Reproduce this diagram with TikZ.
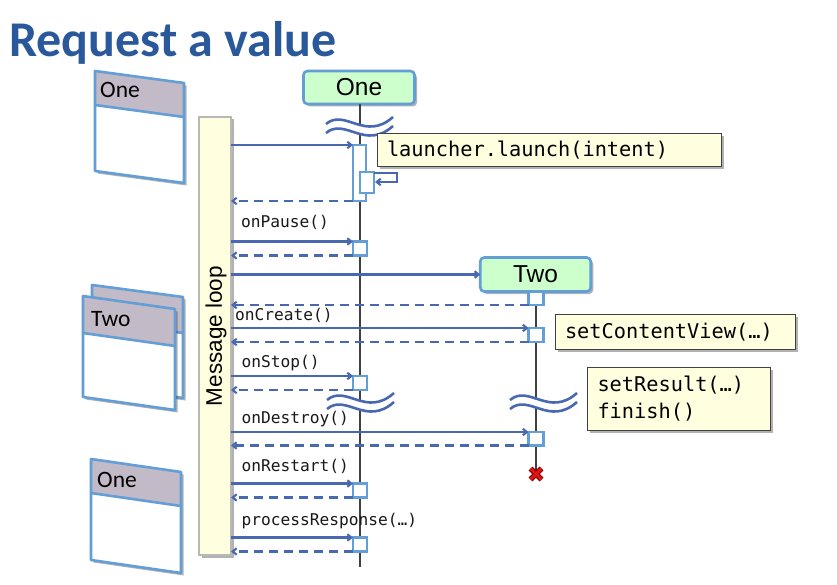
\documentclass[tikz,border=0pt]{standalone}
\usepackage{fontspec}
\setmainfont{Liberation Sans}
\newfontfamily\calibrifont{Carlito}
\newfontfamily\codefont{DejaVu Sans Mono}
\usetikzlibrary{arrows.meta,shadows,calc}
\definecolor{titleblue}{RGB}{41,88,155}
\definecolor{arrblue}{RGB}{72,104,178}
\definecolor{boxblue}{RGB}{100,158,214}
\definecolor{hdrgreen}{RGB}{204,255,204}
\definecolor{noteyellow}{RGB}{255,255,224}
\definecolor{winhdr}{RGB}{194,186,198}
\definecolor{xred}{RGB}{220,20,20}
\definecolor{xdark}{RGB}{140,0,0}
\tikzset{
  shadowed/.style={drop shadow={shadow xshift=2.5pt,shadow yshift=-2.5pt,opacity=0.3,fill=black}},
  actbox/.style={draw=boxblue,line width=2.2pt,fill=white,inner sep=0pt,outer sep=0pt,anchor=north west},
  hdr/.style={draw=boxblue,line width=2.6pt,fill=hdrgreen,rounded corners=4pt,inner sep=0pt,outer sep=0pt,
    font=\fontsize{24.5}{24.5}\selectfont,shadowed},
  note/.style={draw=black!75,fill=noteyellow,line width=1pt,anchor=north west,outer sep=0pt,inner ysep=0pt,
    align=left,font=\codefont\fontsize{20.3}{27}\selectfont,shadowed},
  msg/.style={arrblue,line width=2.1pt,-{Straight Barb[length=4pt,width=6.5pt]}},
  ret/.style={msg,dash pattern=on 9pt off 6pt},
  lbl/.style={font=\codefont\fontsize{16.2}{16}\selectfont,anchor=base west,inner sep=0pt,text=black!90},
  life/.style={draw=black!75,line width=1.4pt},
  winlbl/.style={font=\calibrifont\fontsize{23.5}{23.5}\selectfont,anchor=base west,inner sep=0pt},
  brkline/.style={arrblue,line width=2.6pt},
}
\newcommand\winicon[6]{% x y w skew headerh h
  \path[shadowed,fill=white] (#1,#2) -- ++(#3,#4) -- ++(0,#6) -- ++(-#3,-#4) -- cycle;
  \fill[winhdr] (#1,#2) -- ++(#3,#4) -- ++(0,#5) -- ++(-#3,-#4) -- cycle;
  \draw[boxblue,line width=2.6pt,line join=round] (#1,#2) -- ++(#3,#4) -- ++(0,#6) -- ++(-#3,-#4) -- cycle;
  \draw[boxblue,line width=2.6pt] (#1,#2+#5) -- ++(#3,#4);
}
\newcommand\brkmark[2]{% x0 y0
  \fill[white] (#1,#2) .. controls +(19,-16) and +(-28,25) .. ++(67,-7) -- ++(0,9)
     .. controls +(-28,25) and +(19,-16) .. ++(-67,7) -- cycle;
  \draw[brkline] (#1,#2) .. controls +(19,-16) and +(-28,25) .. ++(67,-7);
  \draw[brkline] (#1,#2+9) .. controls +(19,-16) and +(-28,25) .. ++(67,-7);
}
\begin{document}
\begin{tikzpicture}[x=1pt,y=-1pt]
\useasboundingbox (0,0) rectangle (837,585);
\fill[white] (0,0) rectangle (837,585);

% title
\node[anchor=base west,inner sep=0pt,text=titleblue,font=\calibrifont\bfseries\fontsize{50}{50}\selectfont] (title) at (9,57) {Request a value};

% window icons
\winicon{95}{71}{89}{12}{34}{100}
\node[winlbl] (w1) at (100,98) {One};
\winicon{92}{285}{91}{12}{36}{101}
\winicon{83}{296}{92}{13}{37}{101}
\node[winlbl] (w2) at (91,326) {Two};
\winicon{91}{459}{90}{13}{34}{101}
\node[winlbl] (w3) at (97,487) {One};

% message loop bar
\node[draw=black!28,line width=2.2pt,fill=noteyellow,anchor=north west,minimum width=32pt,minimum height=438pt,
  inner sep=0pt,outer sep=0pt,shadowed] (loop) at (199,117) {};
\node[rotate=90,font=\fontsize{22.5}{22.5}\selectfont,inner sep=0pt] (looplbl) at ($(loop.center)+(1,0)$) {Message loop};

% lifeline heads
\node[hdr,minimum width=111pt,minimum height=33pt] (One) at (359,87.5) {One};
\node[hdr,minimum width=110.5pt,minimum height=34pt] (Two) at (535.5,274.5) {Two};

% lifelines
\coordinate (oneEnd) at (360,567);
\coordinate (twoEnd) at (536,474);
\draw[life] (oneEnd |- One.south) -- (oneEnd);
\draw[life] (twoEnd |- Two.south) -- (twoEnd);

% breaks
\brkmark{326}{124}
\brkmark{327}{400}
\brkmark{510}{400}

% activation boxes
\node[actbox,minimum width=13pt,minimum height=56pt] (actA) at (353,145) {};
\node[actbox,minimum width=14pt,minimum height=21pt] (actB) at (360,172) {};
\node[actbox,minimum width=14pt,minimum height=14pt] (b1) at (353,241.5) {};
\node[actbox,minimum width=15pt,minimum height=13.5pt] (b2) at (528.5,291.5) {};
\node[actbox,minimum width=15pt,minimum height=14pt] (b3) at (528.5,328) {};
\node[actbox,minimum width=14pt,minimum height=14pt] (b4) at (353,376) {};
\node[actbox,minimum width=15pt,minimum height=13.5pt] (b5) at (528.5,432) {};
\node[actbox,minimum width=14pt,minimum height=14pt] (b6) at (353,483.5) {};
\node[actbox,minimum width=14pt,minimum height=14pt] (b7) at (353,537.5) {};

% messages
\draw[msg] (loop.east |- actA.north) -- (actA.north west);
\draw[msg] ($(actB.north east)+(0,1)$) -- ++(23,0) -- ++(0,9) -- ++(-22,0);
\draw[ret] (actA.south west) -- (loop.east |- actA.south);

\node[lbl] (l1) at (241,228) {onPause()};
\draw[msg] (loop.east |- b1.north) -- (b1.north west);
\draw[ret] (b1.south west) -- (loop.east |- b1.south);

\draw[msg] (loop.east |- Two.west) -- (Two.west);
\draw[ret] (b2.south west) -- (loop.east |- b2.south);

\node[lbl] (l2) at (235,320) {onCreate()};
\draw[msg] (loop.east |- b3.north) -- (b3.north west);
\draw[ret] (b3.south west) -- (loop.east |- b3.south);

\node[lbl] (l3) at (241.5,367) {onStop()};
\draw[msg] (loop.east |- b4.north) -- (b4.north west);
\draw[ret] (b4.south west) -- (loop.east |- b4.south);

\node[lbl] (l4) at (241.5,423) {onDestroy()};
\draw[msg] (loop.east |- b5.north) -- (b5.north west);
\draw[ret] (b5.south west) -- (loop.east |- b5.south);

\node[lbl] (l5) at (241.5,471) {onRestart()};
\draw[msg] (loop.east |- b6.north) -- (b6.north west);
\draw[ret] (b6.south west) -- (loop.east |- b6.south);

\node[lbl] (l6) at (241.5,525) {processResponse(…)};
\draw[msg] (loop.east |- b7.north) -- (b7.north west);
\draw[ret] (b7.south west) -- (loop.east |- b7.south);

% destruction mark
\draw[xdark,line width=5.5pt] ($(twoEnd)+(-5.5,-5.5)$) -- ($(twoEnd)+(5.5,5.5)$) ($(twoEnd)+(-5.5,5.5)$) -- ($(twoEnd)+(5.5,-5.5)$);
\draw[xred,line width=3pt] ($(twoEnd)+(-5.5,-5.5)$) -- ($(twoEnd)+(5.5,5.5)$) ($(twoEnd)+(-5.5,5.5)$) -- ($(twoEnd)+(5.5,-5.5)$);

% notes
\node[note,inner xsep=9.5pt,text width=325pt,minimum height=33pt] (n1) at (377.5,134) {launcher.launch(intent)};
\node[note,inner xsep=10pt,text width=220pt,minimum height=35pt] (n2) at (555,314.5) {setContentView(…)};
\node[note,inner xsep=10.5pt,text width=162pt,minimum height=63.5pt] (n3) at (587,367) {setResult(…)\\finish()};
\end{tikzpicture}
\end{document}
